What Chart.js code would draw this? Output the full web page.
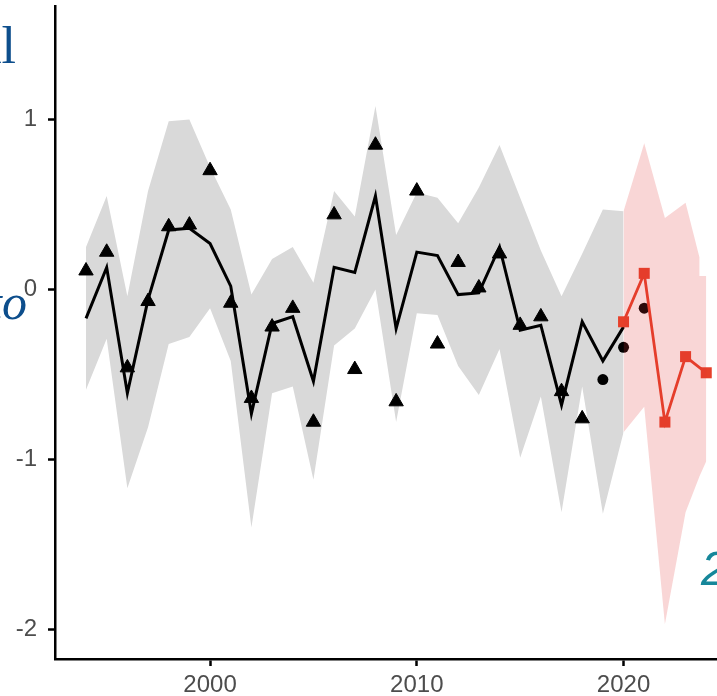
<!DOCTYPE html>
<html>
<head>
<meta charset="utf-8">
<script src="https://cdn.jsdelivr.net/npm/chart.js@4.4.1/dist/chart.umd.min.js"></script>
<style>
  html, body { margin: 0; padding: 0; background: #fff; overflow: hidden; }
  #wrap { position: relative; width: 717px; height: 696px; }
  #chart { display: block; }
</style>
</head>
<body>
<div id="wrap"><canvas id="chart"></canvas></div>
<script>
// ---- data ----
const fitYears = [1994, 1995, 1996, 1997, 1998, 1999, 2000, 2001, 2002, 2003, 2004, 2005, 2006,
  2007, 2008, 2009, 2010, 2011, 2012, 2013, 2014, 2015, 2016, 2017, 2018, 2019, 2020];
const fitValues = [-0.17, 0.13, -0.61, -0.06, 0.35, 0.36, 0.27, 0.02, -0.73, -0.20, -0.16, -0.54, 0.13,
  0.10, 0.55, -0.23, 0.22, 0.20, -0.03, -0.02, 0.25, -0.24, -0.21, -0.68, -0.19, -0.42, -0.22];
const fitUpper = [0.25, 0.55, -0.04, 0.58, 0.99, 1.00, 0.72, 0.47, -0.03, 0.18, 0.25, 0.04, 0.58,
  0.43, 1.08, 0.32, 0.57, 0.54, 0.39, 0.60, 0.85, 0.54, 0.23, -0.04, 0.21, 0.47, 0.46];
const fitLower = [-0.59, -0.29, -1.17, -0.81, -0.32, -0.28, -0.11, -0.42, -1.40, -0.61, -0.57, -1.12, -0.33,
  -0.23, 0.00, -0.78, -0.14, -0.15, -0.45, -0.62, -0.35, -0.99, -0.63, -1.31, -0.57, -1.32, -0.84];

const obsYears = [1994, 1995, 1996, 1997, 1998, 1999, 2000, 2001, 2002, 2003, 2004, 2005, 2006,
  2007, 2008, 2009, 2010, 2011, 2012, 2013, 2014, 2015, 2016, 2017, 2018];
const obsValues = [0.11, 0.22, -0.46, -0.07, 0.37, 0.38, 0.70, -0.08, -0.64, -0.22, -0.11, -0.78, 0.44,
  -0.47, 0.85, -0.66, 0.58, -0.32, 0.16, 0.01, 0.21, -0.21, -0.16, -0.60, -0.76];

const recentYears = [2019, 2020, 2021];
const recentValues = [-0.53, -0.34, -0.11];

const fcYears = [2020, 2021, 2022, 2023, 2024];
const fcValues = [-0.19, 0.095, -0.78, -0.395, -0.49];
const fcBandYears = [2020, 2021, 2022, 2023, 2023.67, 2023.67, 2024];
const fcUpper = [0.46, 0.86, 0.42, 0.51, 0.19, 0.08, 0.08];
const fcLower = [-0.84, -0.69, -1.97, -1.31, -1.10, -1.10, -1.01];

const xTicks = [2000, 2010, 2020];
const yTicks = [-2, -1, 0, 1];

// ---- helpers ----
const pts = (xs, ys) => xs.map((x, i) => ({ x: x, y: ys[i] }));
const tickFont = { family: '"Liberation Sans", Arial, sans-serif', size: 24 };

const hidden = { borderWidth: 0, pointRadius: 0, pointHoverRadius: 0 };

// stray text from neighbouring panels
const sideNotes = [
  { text: 'al', x: 16, y: 63, font: '52px "Liberation Serif"', color: '#0D4E8C', align: 'right' },
  { text: 'to', x: 27, y: 319, font: 'italic 50px "Liberation Serif"', color: '#0D4E8C', align: 'right' },
  { text: '2', x: 701, y: 585, font: 'italic 48px "Liberation Sans"', color: '#16879A', align: 'left' }
];

const notesPlugin = {
  id: 'sideNotes',
  afterDraw(chart) {
    const ctx = chart.ctx;
    ctx.save();
    ctx.textBaseline = 'alphabetic';
    sideNotes.forEach(n => {
      ctx.font = n.font;
      ctx.fillStyle = n.color;
      ctx.textAlign = n.align;
      ctx.fillText(n.text, n.x, n.y);
    });
    ctx.restore();
  }
};

new Chart(document.getElementById('chart'), {
  type: 'line',
  data: {
    datasets: [
      // grey band around the fitted line
      Object.assign({ data: pts(fitYears, fitUpper), fill: '+1', backgroundColor: '#D9D9D9', order: 6 }, hidden),
      Object.assign({ data: pts(fitYears, fitLower), fill: false, order: 6 }, hidden),
      {
        data: pts(fitYears, fitValues),
        borderColor: '#000', borderWidth: 3, pointRadius: 0, fill: false, order: 5
      },
      {
        data: pts(obsYears, obsValues), showLine: false,
        pointStyle: 'triangle', pointRadius: 8.3, pointBackgroundColor: '#000',
        pointBorderColor: '#000', pointBorderWidth: 1, order: 4
      },
      {
        data: pts(recentYears, recentValues), showLine: false,
        pointStyle: 'circle', pointRadius: 5.5, pointBackgroundColor: '#000',
        pointBorderColor: '#000', pointBorderWidth: 0, order: 3
      },
      {
        data: pts(fcYears, fcValues),
        borderColor: '#E6402A', borderWidth: 2.8, fill: false,
        pointStyle: 'rect', pointRadius: 7.8, pointBackgroundColor: '#E6402A',
        pointBorderColor: '#E6402A', pointBorderWidth: 0, order: 2
      },
      // translucent forecast band, laid over everything else
      Object.assign({ data: pts(fcBandYears, fcUpper), fill: '+1', backgroundColor: 'rgba(225, 50, 50, 0.2)', order: 1 }, hidden),
      Object.assign({ data: pts(fcBandYears, fcLower), fill: false, order: 1 }, hidden)
    ]
  },
  options: {
    responsive: true,
    maintainAspectRatio: false,
    animation: false,
    events: [],
    layout: { autoPadding: false, padding: { top: 6, right: 0, bottom: 0, left: 0 } },
    elements: { line: { tension: 0 } },
    plugins: {
      legend: { display: false },
      tooltip: { enabled: false },
      filler: { propagate: false }
    },
    scales: {
      x: {
        type: 'linear',
        min: 1992.5,
        max: 2024.52,
        afterBuildTicks: s => { s.ticks = xTicks.map(v => ({ value: v })); },
        afterFit: s => { s.height = 37; s.paddingLeft = 0; s.paddingRight = 0; },
        grid: { display: true, drawOnChartArea: false, drawTicks: true, tickLength: 7, tickWidth: 2.5, tickColor: '#000' },
        border: { display: true, color: '#000', width: 2.5 },
        ticks: { color: '#4D4D4D', font: tickFont, padding: 5, maxRotation: 0, autoSkip: false, callback: v => String(v) }
      },
      y: {
        min: -2.174,
        max: 1.668,
        afterBuildTicks: s => { s.ticks = yTicks.map(v => ({ value: v })); },
        afterFit: s => { s.width = 55; s.paddingTop = 0; s.paddingBottom = 0; },
        grid: { display: true, drawOnChartArea: false, drawTicks: true, tickLength: 7, tickWidth: 2.5, tickColor: '#000' },
        border: { display: true, color: '#000', width: 2.5 },
        ticks: { color: '#4D4D4D', font: tickFont, padding: 11, autoSkip: false, callback: v => String(v) }
      }
    }
  },
  plugins: [notesPlugin]
});
</script>
</body>
</html>
